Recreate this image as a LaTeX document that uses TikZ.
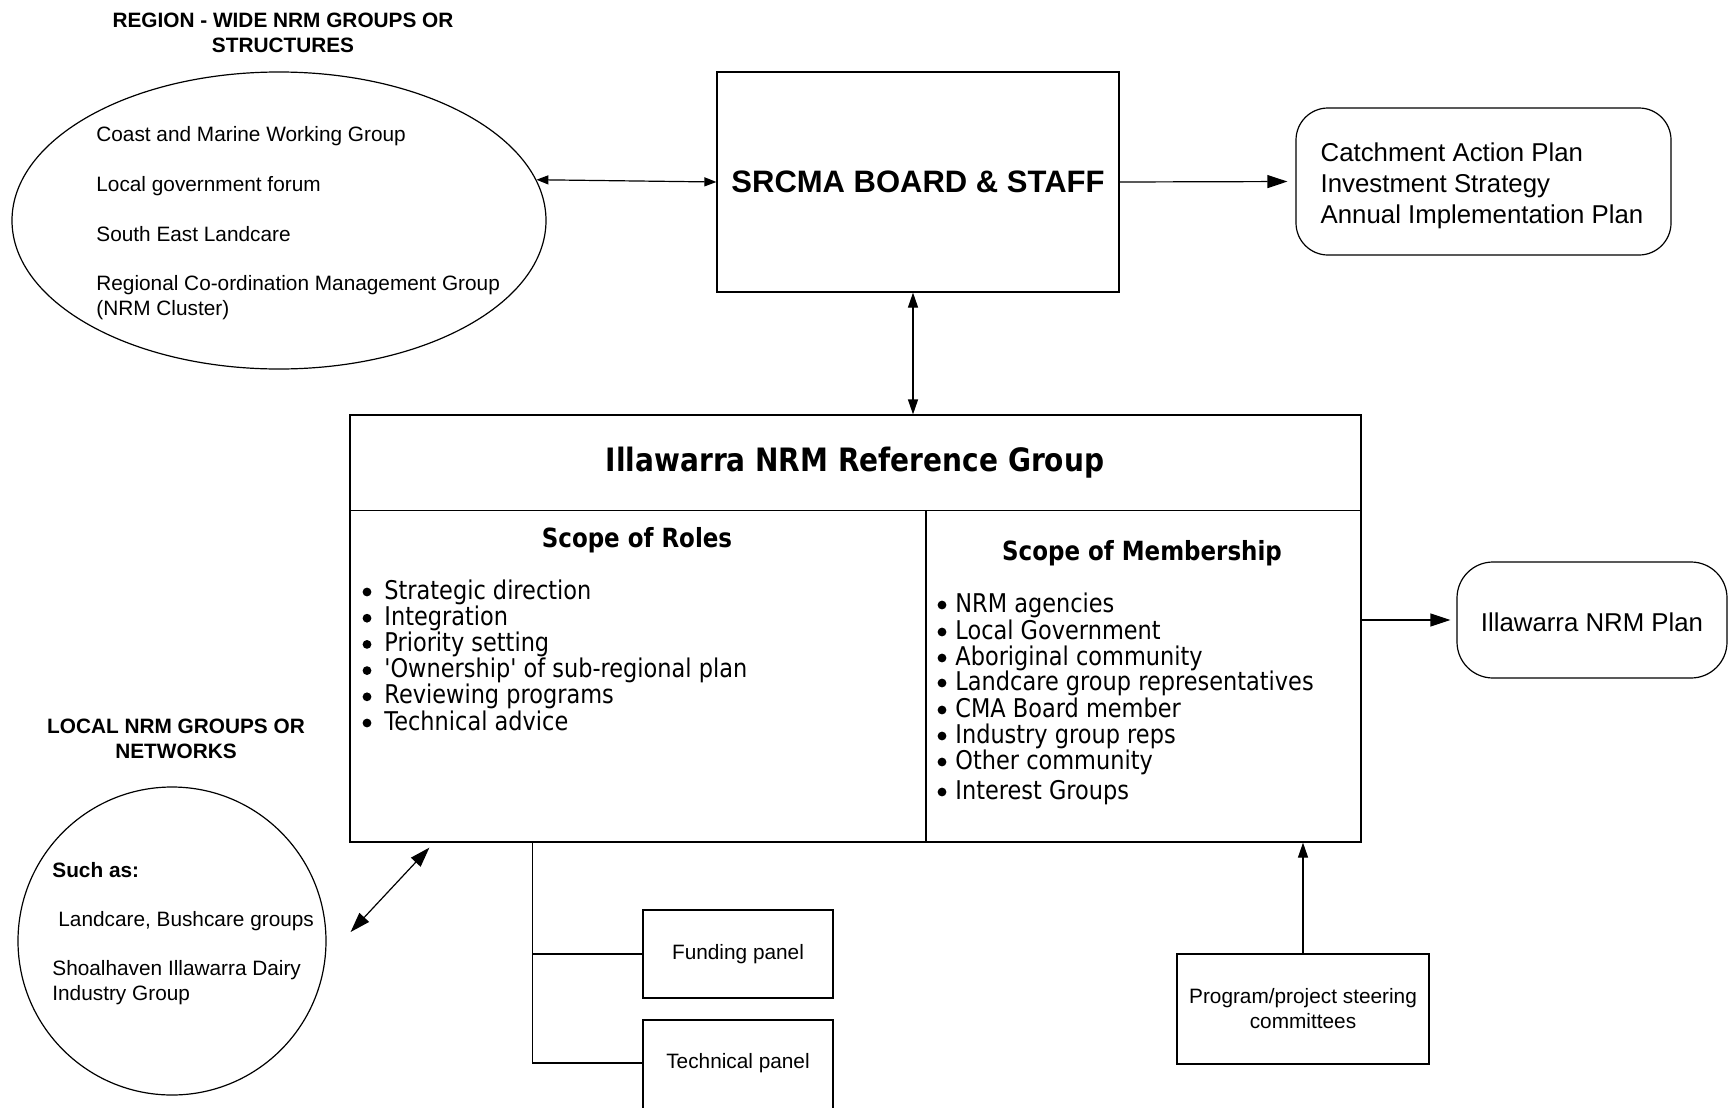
\documentclass[tikz,border=0pt]{standalone}
\usepackage{fontspec}
\setmainfont{Liberation Sans}
\newfontfamily\tah[FakeStretch=0.87]{DejaVu Sans}
\usetikzlibrary{arrows.meta,shapes.geometric}
\tikzset{
  ln/.style={draw=black, line width=0.6pt},
  box/.style={ln, rectangle, inner sep=0pt},
  rbox/.style={ln, rectangle, rounded corners=16pt, inner sep=0pt},
  tipA/.style={ln, -{Triangle[length=10pt,width=6.5pt]}},
  tipM/.style={ln, -{Triangle[length=7.5pt,width=5pt]}},
  dtipL/.style={ln, {Triangle[length=10pt,width=6.5pt]}-{Triangle[length=10pt,width=6.5pt]}},
  dtipM/.style={ln, {Triangle[length=7.5pt,width=5pt]}-{Triangle[length=7.5pt,width=5pt]}},
  dtipS/.style={ln, {Triangle[length=6pt,width=4.5pt]}-{Triangle[length=6pt,width=4.5pt]}},
  sm/.style={font=\fontsize{10.4}{12.5}\selectfont, inner sep=0pt},
  smb/.style={font=\bfseries\fontsize{10.4}{12.5}\selectfont, inner sep=0pt},
  mid/.style={font=\fontsize{12.9}{15.5}\selectfont, inner sep=0pt},
  tl/.style={font=\tah\fontsize{12.9}{13.1}\selectfont, inner sep=0pt, anchor=base west},
  th/.style={font=\tah\bfseries\fontsize{13.2}{15}\selectfont, inner sep=0pt},
  bulletdot/.style={fill=black},
}
\begin{document}
\begin{tikzpicture}[x=0.5pt,y=-0.5pt]
\useasboundingbox (0,0) rectangle (1729,1108);
\clip (0,0) rectangle (1729,1108);

% top-left: region-wide groups
\node[smb, align=center] (regt) at (283,32.5) {REGION - WIDE NRM GROUPS OR\\STRUCTURES};
\node[ln, ellipse, minimum width=267pt, minimum height=148.5pt, inner sep=0pt] (ell1) at (279,220.5) {};
\node[sm, anchor=west] (e1a) at (96,136) {Coast and Marine Working Group};
\node[sm, anchor=west] (e1b) at (96,186) {Local government forum};
\node[sm, anchor=west] (e1c) at (96,234) {South East Landcare};
\node[sm, anchor=west, align=left] (e1d) at (96,298) {Regional Co-ordination Management Group\\(NRM Cluster)};

% SRCMA
\node[box, minimum width=201pt, minimum height=110pt, font=\bfseries\fontsize{15.5}{18}\selectfont] (srcma) at (918,182) {SRCMA BOARD \& STAFF};
\node[rbox, minimum width=187.5pt, minimum height=73.5pt] (cap) at (1483.5,181.5) {};
\node[mid, align=left] (capt) at (1482,185.5) {Catchment Action Plan\\Investment Strategy\\Annual Implementation Plan};

% Reference group
\node[box, minimum width=505.5pt, minimum height=213.5pt] (irg) at (855.5,628.5) {};
\coordinate (dv) at (926,510.5);
\draw[ln] (irg.west |- dv) -- (irg.east |- dv);
\draw[ln] (dv) -- (dv |- irg.south);
\node[font=\tah\bfseries\fontsize{16.1}{18}\selectfont, inner sep=0pt] (irgt) at (855,463) {Illawarra NRM Reference Group};
\node[th] (rolest) at (637,540) {Scope of Roles};
\node[th] (membt) at (1142,553) {Scope of Membership};

\node[tl] (r1) at (384,599) {Strategic direction};
\node[tl] (r2) at (384,625.2) {Integration};
\node[tl] (r3) at (384,651.4) {Priority setting};
\node[tl] (r4) at (384,677.6) {{\char"0027}Ownership{\char"0027} of sub-regional plan};
\node[tl] (r5) at (384,703.8) {Reviewing programs};
\node[tl] (r6) at (384,730) {Technical advice};
\foreach \n in {r1,r2,r3,r4,r5,r6}
  \fill[bulletdot] ([xshift=-8.5pt,yshift=3.5pt]\n.base west) circle (2.2pt);

\node[tl] (m1) at (955,612) {NRM agencies};
\node[tl] (m2) at (955,639) {Local Government};
\node[tl] (m3) at (955,665) {Aboriginal community};
\node[tl] (m4) at (955,690) {Landcare group representatives};
\node[tl] (m5) at (955,717) {CMA Board member};
\node[tl] (m6) at (955,743) {Industry group reps};
\node[tl] (m7) at (955,769) {Other community};
\node[tl] (m8) at (955,799) {Interest Groups};
\foreach \n in {m1,m2,m3,m4,m5,m6,m7,m8}
  \fill[bulletdot] ([xshift=-6.5pt,yshift=3.5pt]\n.base west) circle (2.2pt);

\node[rbox, rounded corners=18pt, minimum width=135pt, minimum height=58pt] (plan) at (1592,620) {};
\node[mid] (plant) at (1592,622) {Illawarra NRM Plan};

% local groups
\node[smb, align=center] (loct) at (176,739) {LOCAL NRM GROUPS OR\\NETWORKS};
\node[ln, circle, minimum size=154pt, inner sep=0pt] (circ) at (172,941) {};
\node[smb, anchor=west] (c1) at (52,870) {Such as:};
\node[sm, anchor=west] (c2) at (58,921) {Landcare, Bushcare groups};
\node[sm, anchor=west, align=left] (c3) at (52,983) {Shoalhaven Illawarra Dairy\\Industry Group};

% panels
\node[box, minimum width=95pt, minimum height=44pt, sm] (fund) at (738,954) {Funding panel};
\node[box, minimum width=95pt, minimum height=60pt] (techbox) at (738,1080) {};
\node[sm] (tech) at (738,1063) {Technical panel};
\node[box, minimum width=126pt, minimum height=55pt, sm, align=center] (steer) at (1303,1009) {Program/project steering\\committees};

% connectors
\draw[dtipS] (ell1.9) -- (srcma.west);
\draw[tipA, shorten >=4pt] (srcma.east) -- (cap.west);
\draw[dtipM] ([xshift=-2.5pt]srcma.south) -- ([xshift=-2.5pt]srcma.south |- irg.north);
\draw[tipA, shorten >=3pt] (irg.east |- plan.west) -- (plan.west);
\draw[dtipL] ([xshift=12pt,yshift=4.5pt]circ.east) -- ([xshift=40pt,yshift=-2.5pt]irg.south west);
\coordinate (tr) at ([xshift=91.5pt]irg.south west);
\draw[ln] (tr) |- (fund.west);
\draw[ln] (tr) |- (techbox.west |- tech);
\draw[tipM] (steer.north) -- (steer.north |- irg.south);
\end{tikzpicture}
\end{document}
